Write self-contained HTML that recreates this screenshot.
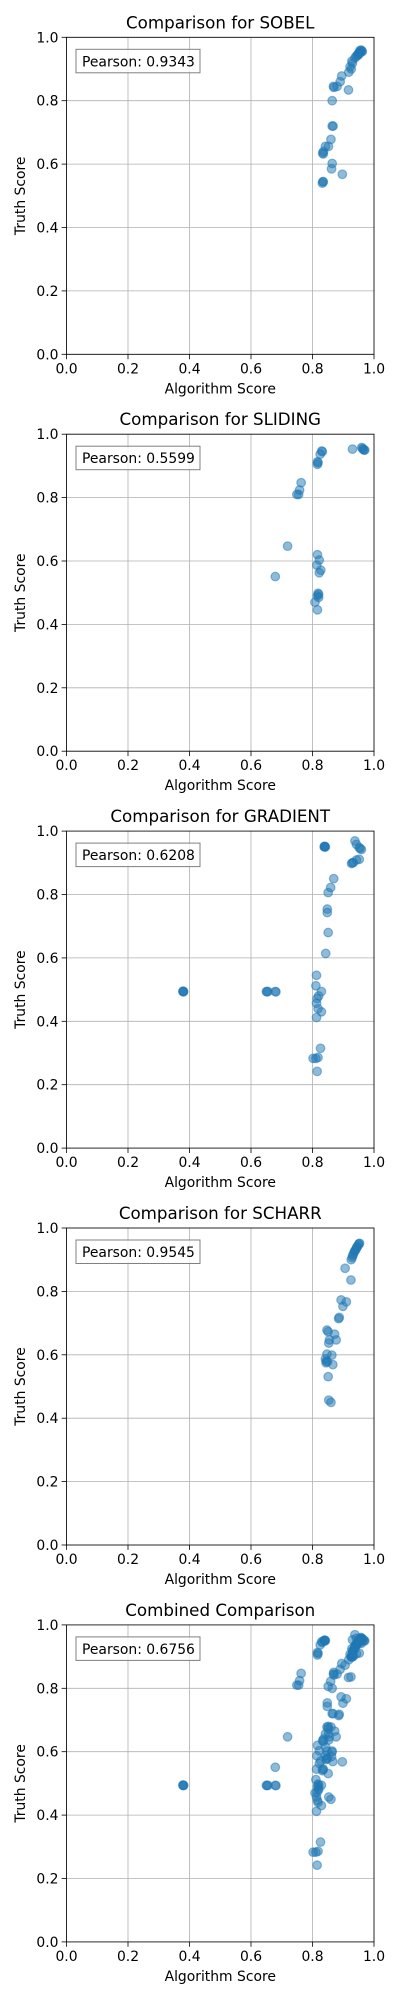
<!DOCTYPE html>
<html><head><meta charset="utf-8">
<style>
html,body{margin:0;padding:0;background:#fff;}
svg{display:block;font-family:"DejaVu Sans","Liberation Sans",sans-serif;}
</style></head>
<body>
<svg id="fig" width="400" height="2000" viewBox="0 0 400 2000" xmlns="http://www.w3.org/2000/svg"></svg>
<script>
const titles = ["Comparison for SOBEL","Comparison for SLIDING","Comparison for GRADIENT","Comparison for SCHARR","Combined Comparison"];
const pearsons = ["0.9343","0.5599","0.6208","0.9545","0.6756"];
const ticks = [0,0.2,0.4,0.6,0.8,1.0];
const tickLabels = ["0.0","0.2","0.4","0.6","0.8","1.0"];

const sobelX = [0.954,0.958,0.962,0.950,0.946,0.942,0.938,0.955,0.960,0.957,0.952,0.948,0.930,0.922,0.926,0.918,0.928,0.895,0.890,0.880,0.868,0.870,0.917,0.864,0.864,0.867,0.860,0.852,0.842,0.836,0.833,0.835,0.864,0.862,0.897,0.835,0.832,0.834];
const sobelY = [0.958,0.960,0.955,0.950,0.945,0.940,0.935,0.952,0.957,0.954,0.948,0.943,0.918,0.907,0.900,0.890,0.925,0.878,0.860,0.845,0.845,0.842,0.834,0.800,0.720,0.720,0.678,0.656,0.656,0.640,0.635,0.632,0.602,0.585,0.568,0.544,0.540,0.545];

const slidingX = [0.830,0.825,0.816,0.816,0.832,0.818,0.930,0.960,0.968,0.963,0.965,0.970,0.763,0.758,0.749,0.755,0.719,0.679,0.816,0.822,0.814,0.827,0.822,0.818,0.816,0.820,0.808,0.816,0.820];
const slidingY = [0.947,0.937,0.913,0.905,0.945,0.910,0.953,0.958,0.950,0.955,0.952,0.950,0.847,0.824,0.810,0.810,0.647,0.551,0.620,0.603,0.587,0.571,0.563,0.498,0.490,0.485,0.470,0.446,0.495];

const gradientX = [0.840,0.838,0.842,0.840,0.839,0.938,0.943,0.952,0.959,0.955,0.933,0.927,0.943,0.952,0.930,0.869,0.859,0.851,0.848,0.848,0.851,0.843,0.379,0.381,0.380,0.379,0.650,0.655,0.652,0.679,0.681,0.813,0.811,0.829,0.820,0.815,0.813,0.818,0.829,0.813,0.826,0.818,0.802,0.811,0.815];
const gradientY = [0.951,0.951,0.950,0.952,0.950,0.969,0.958,0.948,0.942,0.945,0.901,0.898,0.909,0.911,0.900,0.850,0.822,0.806,0.754,0.743,0.680,0.614,0.494,0.494,0.493,0.495,0.494,0.494,0.493,0.494,0.493,0.545,0.512,0.494,0.480,0.472,0.457,0.440,0.430,0.412,0.315,0.286,0.283,0.283,0.242];

const scharrX = [0.953,0.950,0.946,0.943,0.940,0.936,0.933,0.929,0.926,0.951,0.944,0.938,0.931,0.906,0.925,0.893,0.910,0.899,0.887,0.885,0.847,0.851,0.872,0.855,0.877,0.853,0.847,0.863,0.842,0.849,0.866,0.851,0.853,0.860,0.845,0.844];
const scharrY = [0.952,0.947,0.942,0.936,0.931,0.925,0.918,0.907,0.900,0.950,0.939,0.928,0.913,0.873,0.836,0.773,0.767,0.753,0.718,0.714,0.678,0.673,0.665,0.647,0.647,0.637,0.602,0.599,0.587,0.578,0.569,0.531,0.457,0.450,0.580,0.575];

const seriesX = [sobelX, slidingX, gradientX, scharrX, [].concat(sobelX,slidingX,gradientX,scharrX)];
const seriesY = [sobelY, slidingY, gradientY, scharrY, [].concat(sobelY,slidingY,gradientY,scharrY)];

const NS = "http://www.w3.org/2000/svg";
const fig = document.getElementById('fig');
const L = 66.5, W = 307.5, H = 317, T0 = 37.3, STEP = 396.9;

function mk(tag, attrs, parent, text){
  const e = document.createElementNS(NS, tag);
  for (const k in attrs) e.setAttribute(k, attrs[k]);
  if (text !== undefined) e.textContent = text;
  parent.appendChild(e);
  return e;
}

for (let p = 0; p < 5; p++){
  const top = T0 + p*STEP;
  const sx = v => L + v*W;
  const sy = v => top + H - v*H;
  const g = mk('g', {}, fig);
  
  

  const t = mk('text', {x: L + W/2, y: top - 9, 'text-anchor':'middle', 'font-size':'16.7', fill:'#000'}, g, titles[p]);
  
  

  ticks.forEach((v,i) => {
    const gx = mk('line', {x1:sx(v), x2:sx(v), y1:top, y2:top+H, stroke:'#b0b0b0', 'stroke-width':0.8}, g);
    
    
    const gy = mk('line', {x1:L, x2:L+W, y1:sy(v), y2:sy(v), stroke:'#b0b0b0', 'stroke-width':0.8}, g);
    
    
    mk('line', {x1:sx(v), x2:sx(v), y1:top+H, y2:top+H+4.9, stroke:'#000', 'stroke-width':0.8}, g);
    mk('line', {x1:L-4.9, x2:L, y1:sy(v), y2:sy(v), stroke:'#000', 'stroke-width':0.8}, g);
    const xl = mk('text', {x:sx(v), y:top+H+19, 'text-anchor':'middle', 'font-size':'13.9', fill:'#000'}, g, tickLabels[i]);
    
    
    const yl = mk('text', {x:L-8, y:sy(v)+5, 'text-anchor':'end', 'font-size':'13.9', fill:'#000'}, g, tickLabels[i]);
    
    
  });

  const xs = seriesX[p], ys = seriesY[p];
  for (let i = 0; i < xs.length; i++){
    const c = mk('circle', {cx:sx(xs[i]), cy:sy(ys[i]), r:4.3, fill:'#1f77b4', 'fill-opacity':0.5, stroke:'#1f77b4', 'stroke-opacity':0.5, 'stroke-width':1.2}, g);
    
    
  }

  const fr = mk('rect', {x:L, y:top, width:W, height:H, fill:'none', stroke:'#000', 'stroke-width':0.8}, g);
  
  

  const bx = mk('rect', {x:76, y:top+12, width:124, height:23.5, fill:'#fff', 'fill-opacity':0.8, stroke:'#808080', 'stroke-width':1}, g);
  
  
  const pt = mk('text', {x:82, y:top+29, 'font-size':'13.9', fill:'#000'}, g, 'Pearson: ' + pearsons[p]);
  
  

  const xt = mk('text', {x:L + W/2, y:top+H+39, 'text-anchor':'middle', 'font-size':'13.9', fill:'#000'}, g, 'Algorithm Score');
  
  
  const yt = mk('text', {x:0, y:0, 'text-anchor':'middle', 'font-size':'13.9', fill:'#000', transform:'translate(25,' + (top+H/2) + ') rotate(-90)'}, g, 'Truth Score');
  
  
}
</script>
</body></html>
